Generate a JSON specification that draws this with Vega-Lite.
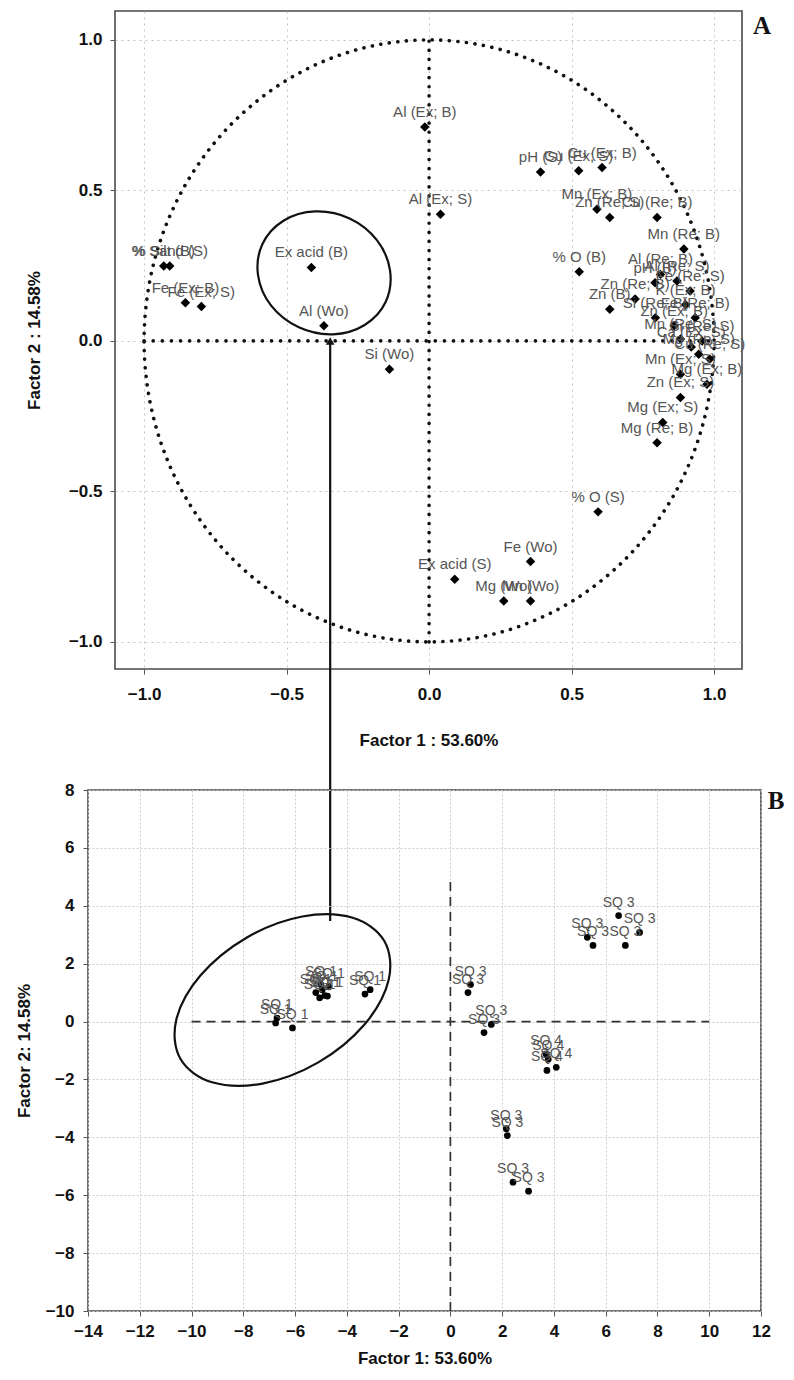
{
  "$schema": "https://vega.github.io/schema/vega-lite/v6.json",
  "background": "white",
  "padding": {"left": 14, "top": 10, "right": 4, "bottom": 4},
  "spacing": 779,
  "bounds": "flush",
  "config": {
    "view": {"stroke": "#4a4a4a", "strokeWidth": 1.6},
    "axis": {"labelFlush": false, "labelOverlap": false, "domain": false, "tickColor": "#555", "labelColor": "#111", "titleColor": "#111"}
  },
  "datasets": {
    "circle": [
      {"i": 0, "x": 1, "y": 0}, {"i": 1, "x": 0.9659, "y": 0.2588}, {"i": 2, "x": 0.866, "y": 0.5}, {"i": 3, "x": 0.7071, "y": 0.7071},
      {"i": 4, "x": 0.5, "y": 0.866}, {"i": 5, "x": 0.2588, "y": 0.9659}, {"i": 6, "x": 0, "y": 1}, {"i": 7, "x": -0.2588, "y": 0.9659},
      {"i": 8, "x": -0.5, "y": 0.866}, {"i": 9, "x": -0.7071, "y": 0.7071}, {"i": 10, "x": -0.866, "y": 0.5}, {"i": 11, "x": -0.9659, "y": 0.2588},
      {"i": 12, "x": -1, "y": 0}, {"i": 13, "x": -0.9659, "y": -0.2588}, {"i": 14, "x": -0.866, "y": -0.5}, {"i": 15, "x": -0.7071, "y": -0.7071},
      {"i": 16, "x": -0.5, "y": -0.866}, {"i": 17, "x": -0.2588, "y": -0.9659}, {"i": 18, "x": 0, "y": -1}, {"i": 19, "x": 0.2588, "y": -0.9659},
      {"i": 20, "x": 0.5, "y": -0.866}, {"i": 21, "x": 0.7071, "y": -0.7071}, {"i": 22, "x": 0.866, "y": -0.5}, {"i": 23, "x": 0.9659, "y": -0.2588}
    ],
    "crossA": [
      {"x": -1, "x2": 1, "y": 0, "y2": 0},
      {"x": 0, "x2": 0, "y": -1, "y2": 1}
    ],
    "arrowA": [{"x": -0.347, "y": 0.0, "y2": -1.927}],
    "tagA": [{"tag": "A", "x": 1.098, "y": 1.096}],
    "ellA": [
      {"i": 0, "x": -0.152, "y": 0.130}, {"i": 1, "x": -0.226, "y": 0.053}, {"i": 2, "x": -0.337, "y": 0.022}, {"i": 3, "x": -0.457, "y": 0.045},
      {"i": 4, "x": -0.554, "y": 0.117}, {"i": 5, "x": -0.600, "y": 0.218}, {"i": 6, "x": -0.585, "y": 0.321}, {"i": 7, "x": -0.511, "y": 0.399},
      {"i": 8, "x": -0.400, "y": 0.430}, {"i": 9, "x": -0.279, "y": 0.407}, {"i": 10, "x": -0.183, "y": 0.335}, {"i": 11, "x": -0.137, "y": 0.234}
    ],
    "loadings": [
      {"label": "% Silt (B)", "x": -0.931, "y": 0.249},
      {"label": "% Sand (S)", "x": -0.910, "y": 0.249},
      {"label": "Fe (Ex; B)", "x": -0.855, "y": 0.127},
      {"label": "Fe (Ex; S)", "x": -0.799, "y": 0.114},
      {"label": "Ex acid (B)", "x": -0.413, "y": 0.244},
      {"label": "Al (Wo)", "x": -0.369, "y": 0.050},
      {"label": "Si (Wo)", "x": -0.139, "y": -0.094},
      {"label": "Al (Ex; B)", "x": -0.015, "y": 0.711},
      {"label": "Al (Ex; S)", "x": 0.040, "y": 0.421},
      {"label": "pH (S)", "x": 0.391, "y": 0.561},
      {"label": "Cu (Ex; S)", "x": 0.525, "y": 0.565},
      {"label": "Cu (Ex; B)", "x": 0.607, "y": 0.576},
      {"label": "Mn (Ex; B)", "x": 0.589, "y": 0.437},
      {"label": "Zn (Re; S)", "x": 0.634, "y": 0.410},
      {"label": "Cu (Re; B)", "x": 0.800, "y": 0.410},
      {"label": "Mn (Re; B)", "x": 0.894, "y": 0.305},
      {"label": "% O (B)", "x": 0.527, "y": 0.230},
      {"label": "Al (Re; B)", "x": 0.812, "y": 0.221},
      {"label": "Al (Re; S)", "x": 0.870, "y": 0.199},
      {"label": "pH (B)", "x": 0.793, "y": 0.193},
      {"label": "Zn (B)", "x": 0.634, "y": 0.105},
      {"label": "Zn (Re; B)", "x": 0.723, "y": 0.139},
      {"label": "Fe (Re; S)", "x": 0.916, "y": 0.166},
      {"label": "K (Ex; B)", "x": 0.900, "y": 0.120},
      {"label": "Si (Re; B)", "x": 0.794, "y": 0.077},
      {"label": "Fe (Re; B)", "x": 0.934, "y": 0.077},
      {"label": "Zn (Ex; B)", "x": 0.860, "y": 0.050},
      {"label": "Mn (Re; S)", "x": 0.882, "y": 0.006},
      {"label": "Si (Re; S)", "x": 0.958, "y": 0.0},
      {"label": "Ca (Ex; S)", "x": 0.920, "y": -0.020},
      {"label": "Mg (Re; S)", "x": 0.946, "y": -0.044},
      {"label": "Cu (Re; S)", "x": 0.985, "y": -0.060},
      {"label": "Mn (Ex; S)", "x": 0.882, "y": -0.111},
      {"label": "Mg (Ex; B)", "x": 0.975, "y": -0.144},
      {"label": "Zn (Ex; S)", "x": 0.882, "y": -0.188},
      {"label": "Mg (Ex; S)", "x": 0.820, "y": -0.271},
      {"label": "Mg (Re; B)", "x": 0.800, "y": -0.338},
      {"label": "% O (S)", "x": 0.593, "y": -0.568},
      {"label": "Fe (Wo)", "x": 0.356, "y": -0.733},
      {"label": "Ex acid (S)", "x": 0.090, "y": -0.792},
      {"label": "Mg (Wo)", "x": 0.262, "y": -0.864},
      {"label": "Mn (Wo)", "x": 0.356, "y": -0.864}
    ],
    "crossB": [
      {"x": -10, "x2": 10, "y": 0, "y2": 0},
      {"x": 0, "x2": 0, "y": -10, "y2": 5}
    ],
    "tagB": [{"tag": "B", "x": 12, "y": 8}],
    "ellB": [
      {"i": 0, "x": -2.552, "y": 2.782}, {"i": 1, "x": -2.386, "y": 1.432}, {"i": 2, "x": -3.319, "y": -0.103}, {"i": 3, "x": -5.102, "y": -1.411},
      {"i": 4, "x": -7.256, "y": -2.142}, {"i": 5, "x": -9.204, "y": -2.099}, {"i": 6, "x": -10.425, "y": -1.295}, {"i": 7, "x": -10.591, "y": 0.055},
      {"i": 8, "x": -9.658, "y": 1.590}, {"i": 9, "x": -7.875, "y": 2.898}, {"i": 10, "x": -5.721, "y": 3.629}, {"i": 11, "x": -3.773, "y": 3.586}
    ],
    "scores": [
      {"x": -6.7, "y": 0.12, "label": "SQ 1"},
      {"x": -6.75, "y": -0.05, "label": "SQ 1"},
      {"x": -6.1, "y": -0.22, "label": "SQ 1"},
      {"x": -5.2, "y": 1.0, "label": "SQ 1"},
      {"x": -5.0, "y": 1.28, "label": "SQ 1"},
      {"x": -4.85, "y": 0.9, "label": "SQ 1"},
      {"x": -4.95, "y": 1.1, "label": "SQ 1"},
      {"x": -4.7, "y": 1.2, "label": "SQ 1"},
      {"x": -5.05, "y": 0.82, "label": "SQ 1"},
      {"x": -4.75, "y": 0.88, "label": "SQ 1"},
      {"x": -3.3, "y": 0.95, "label": "SQ 1"},
      {"x": -3.1, "y": 1.1, "label": "SQ 1"},
      {"x": 0.78, "y": 1.28, "label": "SQ 3"},
      {"x": 0.68, "y": 1.0, "label": "SQ 3"},
      {"x": 1.58, "y": -0.1, "label": "SQ 3"},
      {"x": 1.3, "y": -0.38, "label": "SQ 3"},
      {"x": 3.7, "y": -1.12, "label": "SQ 4"},
      {"x": 3.78, "y": -1.3, "label": "SQ 4"},
      {"x": 3.73, "y": -1.69, "label": "SQ 4"},
      {"x": 4.09, "y": -1.58, "label": "SQ 4"},
      {"x": 2.16, "y": -3.7, "label": "SQ 3"},
      {"x": 2.2, "y": -3.94, "label": "SQ 3"},
      {"x": 2.42, "y": -5.55, "label": "SQ 3"},
      {"x": 3.02, "y": -5.86, "label": "SQ 3"},
      {"x": 6.5, "y": 3.66, "label": "SQ 3"},
      {"x": 7.31, "y": 3.08, "label": "SQ 3"},
      {"x": 5.29, "y": 2.91, "label": "SQ 3"},
      {"x": 5.51, "y": 2.63, "label": "SQ 3"},
      {"x": 6.76, "y": 2.63, "label": "SQ 3"}
    ]
  },
  "vconcat": [
    {
      "hconcat": [
        {
          "width": 27,
          "height": 658,
          "view": {"stroke": null},
          "data": {"values": []},
          "mark": {"type": "point", "opacity": 0}
        },
        {
          "width": 627,
          "height": 658,
          "encoding": {
            "x": {"field": "x", "type": "quantitative",
              "scale": {"domain": [-1.102, 1.098], "nice": false, "zero": false},
              "axis": {"values": [-1, -0.5, 0, 0.5, 1], "format": ".1f", "title": "Factor 1 : 53.60%",
                "labelFont": "Liberation Sans", "labelFontWeight": "bold", "labelFontSize": 17, "labelPadding": 12, "tickSize": 5,
                "titleFont": "Liberation Sans", "titleFontWeight": "bold", "titleFontSize": 17, "titlePadding": 30,
                "gridDash": [2, 4], "gridColor": "#c4c4c4"}},
            "y": {"field": "y", "type": "quantitative",
              "scale": {"domain": [-1.09, 1.096], "nice": false, "zero": false},
              "axis": {"values": [-1, -0.5, 0, 0.5, 1], "format": ".1f", "title": "Factor 2 : 14.58%",
                "labelFont": "Liberation Sans", "labelFontWeight": "bold", "labelFontSize": 17, "labelPadding": 8, "tickSize": 5,
                "titleFont": "Liberation Sans", "titleFontWeight": "bold", "titleFontSize": 17, "titlePadding": 25,
                "gridDash": [2, 4], "gridColor": "#c4c4c4"}}
          },
          "layer": [
            {"data": {"name": "circle"},
              "mark": {"type": "line", "interpolate": "cardinal-closed", "strokeDash": [0.1, 8.5], "strokeCap": "round", "strokeWidth": 3.6, "color": "#111"},
              "encoding": {"order": {"field": "i", "type": "quantitative"}}},
            {"data": {"name": "crossA"},
              "mark": {"type": "rule", "strokeDash": [0.1, 9], "strokeCap": "round", "strokeWidth": 3.6, "color": "#111"},
              "encoding": {"x2": {"field": "x2"}, "y2": {"field": "y2"}}},
            {"data": {"name": "ellA"},
              "mark": {"type": "line", "interpolate": "cardinal-closed", "strokeWidth": 2.2, "color": "#111"},
              "encoding": {"order": {"field": "i", "type": "quantitative"}}},
            {"data": {"name": "loadings"},
              "mark": {"type": "point", "shape": "diamond", "filled": true, "size": 90, "color": "#000", "opacity": 1}},
            {"data": {"name": "loadings"},
              "mark": {"type": "text", "dy": -15, "fontSize": 15, "font": "Liberation Sans", "color": "#555"},
              "encoding": {"text": {"field": "label"}}},
            {"data": {"name": "arrowA"},
              "mark": {"type": "rule", "strokeWidth": 2.2, "color": "#111"},
              "encoding": {"y2": {"field": "y2"}}},
            {"data": {"name": "arrowA"},
              "mark": {"type": "point", "shape": "triangle-up", "filled": true, "size": 75, "color": "#111", "opacity": 1}},
            {"data": {"name": "tagA"},
              "mark": {"type": "text", "font": "Liberation Serif", "fontWeight": "bold", "fontSize": 25, "color": "#111", "dx": 20, "dy": 15, "align": "center", "baseline": "middle"},
              "encoding": {"text": {"field": "tag"}}}
          ]
        }
      ],
      "spacing": 0,
      "bounds": "flush"
    },
    {
      "width": 673,
      "height": 521,
      "encoding": {
        "x": {"field": "x", "type": "quantitative",
          "scale": {"domain": [-14, 12], "nice": false, "zero": false},
          "axis": {"values": [-14, -12, -10, -8, -6, -4, -2, 0, 2, 4, 6, 8, 10, 12], "format": "d", "title": "Factor 1: 53.60%",
            "labelFont": "Liberation Sans Narrow, Liberation Sans, sans-serif", "labelFontWeight": "bold", "labelFontSize": 17, "labelPadding": 7, "tickSize": 5,
            "titleFont": "Liberation Sans Narrow, Liberation Sans, sans-serif", "titleFontWeight": "bold", "titleFontSize": 17, "titlePadding": 11,
            "gridDash": [2, 2], "gridColor": "#cfcfcf"}},
        "y": {"field": "y", "type": "quantitative",
          "scale": {"domain": [-10, 8], "nice": false, "zero": false},
          "axis": {"values": [-10, -8, -6, -4, -2, 0, 2, 4, 6, 8], "format": "d", "title": "Factor 2: 14.58%",
            "labelFont": "Liberation Sans", "labelFontWeight": "bold", "labelFontSize": 17, "labelPadding": 9, "tickSize": 5,
            "titleFont": "Liberation Sans", "titleFontWeight": "bold", "titleFontSize": 17, "titlePadding": 12,
            "gridDash": [2, 2], "gridColor": "#cfcfcf"}}
      },
      "layer": [
        {"data": {"name": "crossB"},
          "mark": {"type": "rule", "strokeDash": [9, 6], "strokeWidth": 1.7, "color": "#333"},
          "encoding": {"x2": {"field": "x2"}, "y2": {"field": "y2"}}},
        {"data": {"name": "ellB"},
          "mark": {"type": "line", "interpolate": "cardinal-closed", "strokeWidth": 2.2, "color": "#111"},
          "encoding": {"order": {"field": "i", "type": "quantitative"}}},
        {"data": {"name": "scores"},
          "mark": {"type": "point", "shape": "circle", "filled": true, "size": 45, "color": "#000", "opacity": 1}},
        {"data": {"name": "scores"},
          "mark": {"type": "text", "dy": -13, "fontSize": 14, "font": "Liberation Sans", "color": "#555"},
          "encoding": {"text": {"field": "label"}}},
        {"data": {"name": "tagB"},
          "mark": {"type": "text", "font": "Liberation Serif", "fontWeight": "bold", "fontSize": 25, "color": "#111", "dx": 15, "dy": 11, "align": "center", "baseline": "middle"},
          "encoding": {"text": {"field": "tag"}}}
      ]
    }
  ]
}
